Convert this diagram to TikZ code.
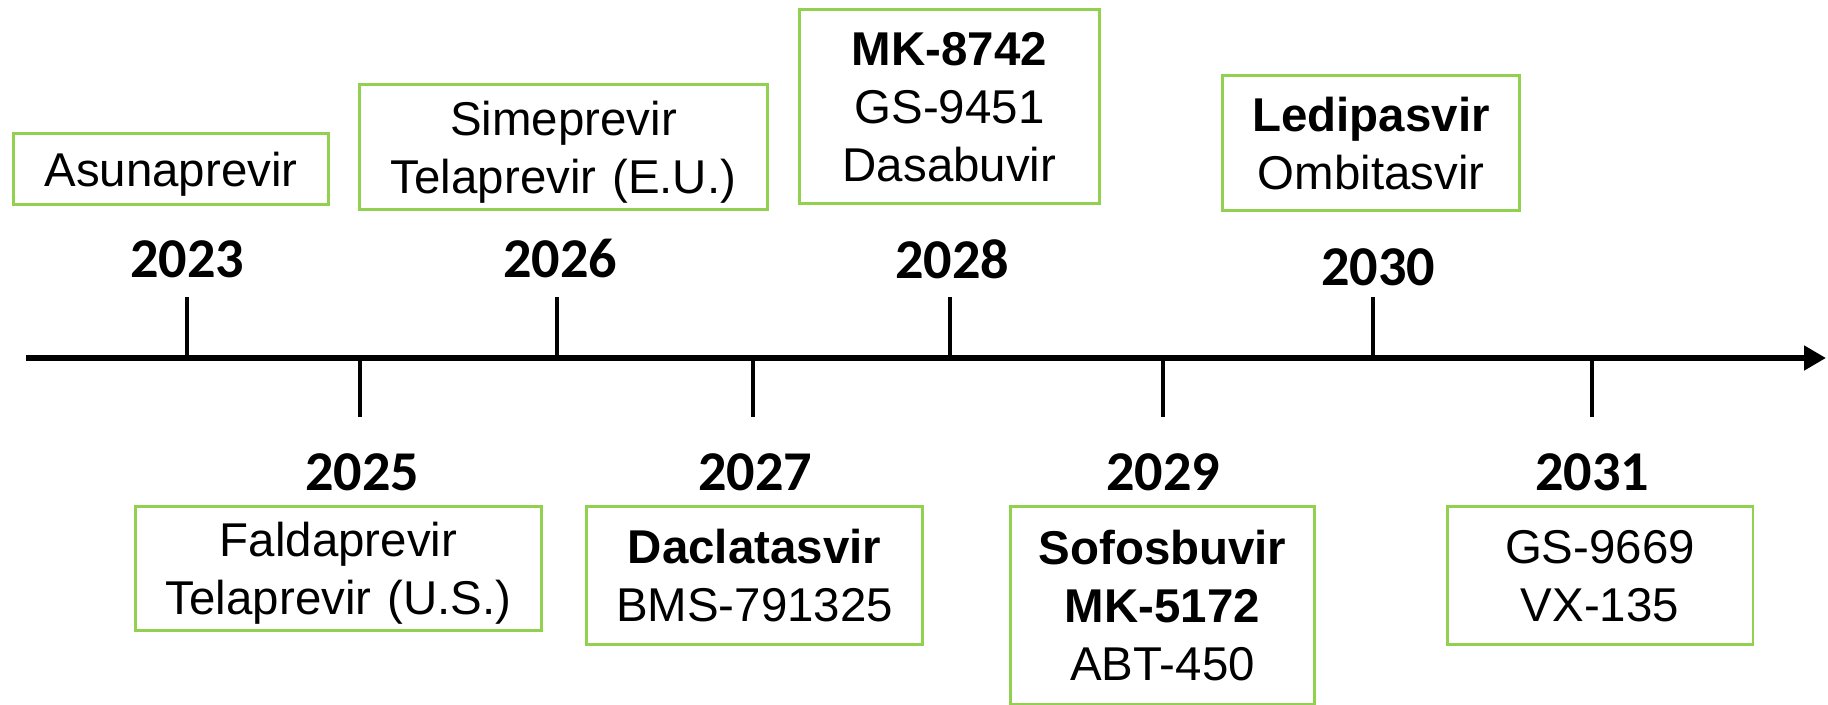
\documentclass[tikz,border=0pt]{standalone}
\usepackage{fontspec}
\setmainfont{Liberation Sans}
\newfontfamily\yearfont{Carlito}
\usetikzlibrary{arrows.meta}

\begin{document}
\begin{tikzpicture}[x=0.02cm,y=-0.02cm,
  drugbox/.style={draw=boxgreen,line width=1.7pt,align=center,inner sep=0pt,
    text depth=#1,font=\fontsize{27}{33}\selectfont},
  drugbox/.default=0pt,
  yearlabel/.style={font=\yearfont\bfseries\fontsize{32}{36}\selectfont,inner sep=0pt},
  tick/.style={line width=2.3pt}]
\definecolor{boxgreen}{HTML}{92D050}

\useasboundingbox (0,0) rectangle (1828,705);

% time axis
\coordinate (start) at (26,358);
\coordinate (end) at (1826,358);
\draw[line width=3.4pt,-{Triangle[length=12.5pt,width=13.5pt]}] (start) -- (end);

% ticks above the axis
\foreach \name/\x in {a2023/187,a2026/557,a2028/950,a2030/1373}{
  \coordinate (\name) at (\x,358);
  \coordinate (\name top) at (\x,297);
  \draw[tick] (\name) -- (\name top);
}

% ticks below the axis
\foreach \name/\x in {a2025/360,a2027/753,a2029/1163,a2031/1592}{
  \coordinate (\name) at (\x,358);
  \coordinate (\name bot) at (\x,417);
  \draw[tick] (\name) -- (\name bot);
}

% years
\node[yearlabel] (y2023) at (187,259) {2023};
\node[yearlabel] (y2026) at (560,259) {2026};
\node[yearlabel] (y2028) at (952,259) {2028};
\node[yearlabel] (y2030) at (1378,267) {2030};
\node[yearlabel] (y2025) at (362,472) {2025};
\node[yearlabel] (y2027) at (755,472) {2027};
\node[yearlabel] (y2029) at (1163,472) {2029};
\node[yearlabel] (y2031) at (1592,472) {2031};

% drugs above
\node[drugbox,text width=6cm,minimum width=6.32cm,minimum height=1.42cm]
  (asuna) at (171,169) {Asunaprevir};
\node[drugbox=33pt,text width=8cm,minimum width=8.18cm,minimum height=2.52cm]
  (sime) at (563.5,147) {Simeprevir\\Telaprevir (E.U.)};
\node[drugbox=66pt,text width=6cm,minimum width=6.02cm,minimum height=3.9cm]
  (mk) at (949.5,106.5) {\textbf{MK-8742}\\GS-9451\\Dasabuvir};
\node[drugbox=33pt,text width=5.9cm,minimum width=5.96cm,minimum height=2.72cm]
  (ledi) at (1371,143) {\textbf{Ledipasvir}\\Ombitasvir};

% drugs below
\node[drugbox=33pt,text width=8cm,minimum width=8.14cm,minimum height=2.5cm]
  (falda) at (338.5,568.5) {Faldaprevir\\Telaprevir (U.S.)};
\node[drugbox=33pt,text width=6.7cm,minimum width=6.74cm,minimum height=2.78cm]
  (dacla) at (754.5,575.5) {\textbf{Daclatasvir}\\BMS-791325};
\node[drugbox=66pt,text width=6cm,minimum width=6.1cm,minimum height=3.98cm]
  (sofos) at (1162.5,605.5) {\textbf{Sofosbuvir}\\\textbf{MK-5172}\\ABT-450};
\node[drugbox=33pt,text width=6cm,minimum width=6.12cm,minimum height=2.78cm]
  (gs) at (1600,575.5) {GS-9669\\VX-135};

\end{tikzpicture}
\end{document}
